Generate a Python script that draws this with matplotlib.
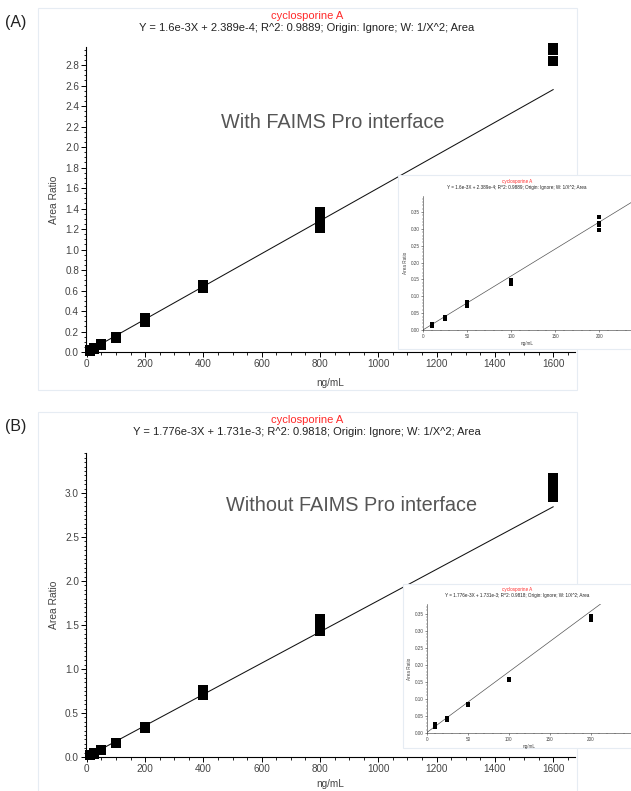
import matplotlib
matplotlib.use("Agg")
import matplotlib.pyplot as plt
from matplotlib.ticker import MultipleLocator, FormatStrFormatter
from matplotlib.patches import Rectangle
import numpy as np

plt.rcParams['font.family'] = ['Liberation Sans', 'DejaVu Sans']

# ---------------- data ----------------
compound = "cyclosporine A"
eq_a = "Y = 1.6e-3X + 2.389e-4; R^2: 0.9889; Origin: Ignore; W: 1/X^2; Area"
eq_b = "Y = 1.776e-3X + 1.731e-3; R^2: 0.9818; Origin: Ignore; W: 1/X^2; Area"
slope_a, icpt_a = 1.6e-3, 2.389e-4
slope_b, icpt_b = 1.776e-3, 1.731e-3
label_a = "With FAIMS Pro interface"
label_b = "Without FAIMS Pro interface"

conc_a = [10, 10, 25, 25, 50, 50, 50, 100, 100, 100, 200, 200, 200, 200,
          400, 400, 400, 800, 800, 800, 800, 1600, 1600, 1600]
ratio_a = [0.013, 0.017, 0.034, 0.040, 0.072, 0.078, 0.082, 0.137, 0.143, 0.148,
           0.296, 0.310, 0.318, 0.334, 0.625, 0.640, 0.655,
           1.21, 1.27, 1.32, 1.37, 2.84, 2.95, 2.97]

conc_b = [10, 10, 25, 25, 50, 50, 100, 100, 200, 200, 200,
          400, 400, 400, 800, 800, 800, 800, 1600, 1600, 1600, 1600]
ratio_b = [0.018, 0.026, 0.039, 0.044, 0.082, 0.084, 0.155, 0.159, 0.332, 0.338, 0.344,
           0.71, 0.735, 0.76, 1.43, 1.48, 1.53, 1.57, 2.95, 3.03, 3.10, 3.17]

W, H = 631, 791
fig = plt.figure(figsize=(W / 100, H / 100), dpi=100)


def rect(l, t, r, b):
    return [l / W, 1 - b / H, (r - l) / W, (b - t) / H]


def frame(l, t, r, b, z=0):
    fig.patches.append(Rectangle((l / W, 1 - b / H), (r - l) / W, (b - t) / H,
                                 transform=fig.transFigure, facecolor='white',
                                 edgecolor='#e6ecf3', lw=0.8, zorder=z))


TXT = '#444444'


def style_main(ax, ymaj, ymin_, yfmt):
    for s in ['top', 'right']:
        ax.spines[s].set_visible(False)
    for s in ['left', 'bottom']:
        ax.spines[s].set_linewidth(0.8)
    ax.xaxis.set_major_locator(MultipleLocator(200))
    ax.xaxis.set_minor_locator(MultipleLocator(50))
    ax.yaxis.set_major_locator(MultipleLocator(ymaj))
    ax.yaxis.set_minor_locator(MultipleLocator(ymin_))
    ax.yaxis.set_major_formatter(FormatStrFormatter(yfmt))
    ax.tick_params(which='major', length=3.5, width=0.7, labelsize=7.2,
                   labelcolor=TXT, pad=1.5)
    ax.tick_params(which='minor', length=1.8, width=0.6)
    ax.set_facecolor('none')


def style_inset(ax):
    for s in ['top', 'right']:
        ax.spines[s].set_visible(False)
    for s in ['left', 'bottom']:
        ax.spines[s].set_linewidth(0.4)
        ax.spines[s].set_color('#333333')
    ax.xaxis.set_major_locator(MultipleLocator(50))
    ax.xaxis.set_minor_locator(MultipleLocator(10))
    ax.yaxis.set_major_locator(MultipleLocator(0.05))
    ax.yaxis.set_minor_locator(MultipleLocator(0.01))
    ax.yaxis.set_major_formatter(FormatStrFormatter('%.2f'))
    ax.tick_params(which='major', length=1.6, width=0.4, labelsize=3.3,
                   labelcolor=TXT, pad=1, color='#333333')
    ax.tick_params(which='minor', length=0.8, width=0.3, color='#333333')
    ax.set_xlabel('ng/mL', fontsize=3.3, color=TXT, labelpad=1.5)
    ax.set_ylabel('Area Ratio', fontsize=3.3, color=TXT, labelpad=2)


def panel(top_off, letter, eq, slope, icpt, conc, ratio, lab, ylim_top,
          ymaj, ymin_, yfmt, ax_box, lab_xy, inset_frame, inset_box,
          inset_xmax, inset_ytop, inset_title_y, xlpad):
    # panel frame (behind everything)
    frame(38, top_off, 577, top_off + 382, z=-10)
    fig.text(16 / W, 1 - (top_off + 14) / H, letter, fontsize=11.5,
             ha='center', va='center', color='#222222')
    fig.text(307 / W, 1 - (top_off + 8) / H, compound, color='#ff2a2a',
             fontsize=8.0, ha='center', va='center')
    fig.text(307 / W, 1 - (top_off + 20) / H, eq, color='#222222',
             fontsize=8.0, ha='center', va='center')

    ax = fig.add_axes(rect(*ax_box))
    ax.set_zorder(1)
    xs = np.array([0, 1600])
    ax.plot(xs, slope * xs + icpt, color='#111111', lw=0.75, zorder=2)
    ax.plot(conc, ratio, 's', color='black', ms=7.2, mec='black', mew=0.0,
            clip_on=False, zorder=3)
    ax.set_xlim(-3, 1675)
    ax.set_ylim(0, ylim_top)
    style_main(ax, ymaj, ymin_, yfmt)
    ax.set_xlabel('ng/mL', fontsize=7.2, color=TXT, labelpad=xlpad)
    ax.set_ylabel('Area Ratio', fontsize=7.4, color=TXT, labelpad=4.5)
    fig.text(lab_xy[0] / W, 1 - lab_xy[1] / H, lab, fontsize=14.3,
             color='#555555', ha='left', va='center')

    # inset
    frame(*inset_frame, z=5)
    axi = fig.add_axes(rect(*inset_box))
    axi.set_zorder(6)
    xi = np.array([0, 300])
    axi.plot(xi, slope * xi + icpt, color='#555555', lw=0.5, zorder=2)
    sel = [i for i, c in enumerate(conc) if c <= 200]
    axi.plot([conc[i] for i in sel], [ratio[i] for i in sel], 's',
             color='black', ms=3.0, mew=0, zorder=3)
    axi.set_xlim(0, inset_xmax)
    axi.set_ylim(0, inset_ytop)
    style_inset(axi)
    axi.set_facecolor('none')
    fig.text(517 / W, 1 - inset_title_y / H, compound, color='#ff2a2a',
             fontsize=3.3, ha='center', va='center', zorder=7)
    fig.text(517 / W, 1 - (inset_title_y + 5.5) / H, eq, color='#222222',
             fontsize=3.3, ha='center', va='center', zorder=7)


panel(8, '(A)', eq_a, slope_a, icpt_a, conc_a, ratio_a, label_a, 2.976,
      0.2, 0.05, '%.1f', (86, 47, 575, 352), (221, 123),
      (398, 175, 640, 349), (423, 196, 631, 330), 236, 0.3975, 181.5, 6.5)

panel(412, '(B)', eq_b, slope_b, icpt_b, conc_b, ratio_b, label_b, 3.455,
      0.5, 0.05, '%.1f', (86, 453, 575, 757), (226, 505),
      (403, 584, 640, 748), (427, 604, 631, 733), 249, 0.378, 590, 3.5)

fig.savefig('out.png', dpi=100, facecolor='white')
